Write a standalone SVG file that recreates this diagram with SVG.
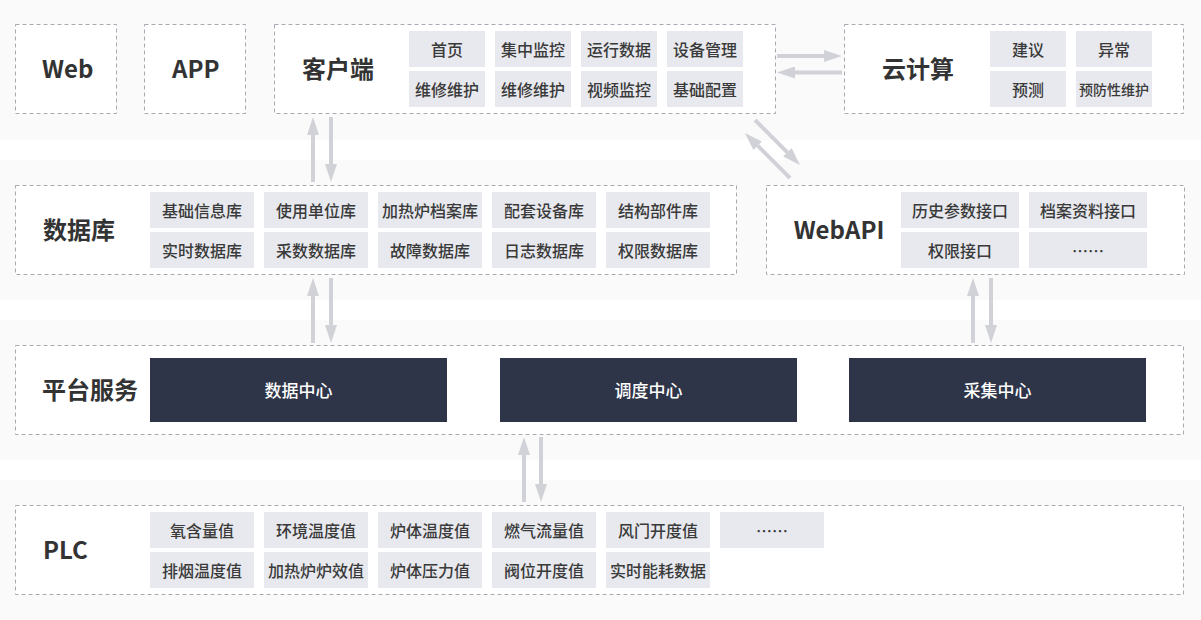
<svg xmlns="http://www.w3.org/2000/svg" width="1201" height="620" viewBox="0 0 1201 620">
<defs>
<style>
.band{fill:#fafafa}
.box{fill:#ffffff;stroke:#a9a9b3;stroke-width:1;stroke-dasharray:4 3}
.item{fill:#e8e9ee}
.blk{fill:#2e3548}
.title{font-family:"Noto Sans CJK SC","Liberation Sans",sans-serif;font-size:24px;font-weight:700;fill:#333333;dominant-baseline:central}
.t{font-family:"Noto Sans CJK SC","Liberation Sans",sans-serif;font-size:16px;font-weight:500;fill:#3a3a3a;text-anchor:middle;dominant-baseline:central}
.w{font-family:"Noto Sans CJK SC","Liberation Sans",sans-serif;font-size:17px;font-weight:500;fill:#ffffff;text-anchor:middle;dominant-baseline:central}
.arr{stroke:#d1d2d7;stroke-width:4;fill:none;marker-end:url(#head)}
</style>
<marker id="head" markerUnits="userSpaceOnUse" markerWidth="18" markerHeight="12" refX="0" refY="6" orient="auto" viewBox="0 0 18 12">
<path d="M0,0 L18,6 L0,12 Z" fill="#d1d2d7"/>
</marker>
</defs>
<rect width="1201" height="620" fill="#ffffff"/>
<rect class="band" x="0" y="0" width="1201" height="140"/>
<rect class="band" x="0" y="160" width="1201" height="140"/>
<rect class="band" x="0" y="320" width="1201" height="140"/>
<rect class="band" x="0" y="480" width="1201" height="140"/>

<g id="web">
<rect class="box" x="15.5" y="24.5" width="101" height="89"/>
<text class="title" x="42" y="67.5">Web</text>
</g>
<g id="app">
<rect class="box" x="144.5" y="24.5" width="101" height="89"/>
<text class="title" x="172" y="67.5">APP</text>
</g>
<g id="client">
<rect class="box" x="274.5" y="24.5" width="501" height="89"/>
<text class="title" x="302" y="67.5">客户端</text>
<rect class="item" x="409" y="31" width="76" height="36"/><text class="t" x="447" y="49">首页</text>
<rect class="item" x="495" y="31" width="76" height="36"/><text class="t" x="533" y="49">集中监控</text>
<rect class="item" x="581" y="31" width="76" height="36"/><text class="t" x="619" y="49">运行数据</text>
<rect class="item" x="667" y="31" width="76" height="36"/><text class="t" x="705" y="49">设备管理</text>
<rect class="item" x="409" y="71" width="76" height="36"/><text class="t" x="447" y="89">维修维护</text>
<rect class="item" x="495" y="71" width="76" height="36"/><text class="t" x="533" y="89">维修维护</text>
<rect class="item" x="581" y="71" width="76" height="36"/><text class="t" x="619" y="89">视频监控</text>
<rect class="item" x="667" y="71" width="76" height="36"/><text class="t" x="705" y="89">基础配置</text>
</g>
<g id="cloud">
<rect class="box" x="844.5" y="24.5" width="339" height="89"/>
<text class="title" x="918" y="67.5" text-anchor="middle">云计算</text>
<rect class="item" x="990" y="31" width="76" height="36"/><text class="t" x="1028" y="49">建议</text>
<rect class="item" x="1076" y="31" width="76" height="36"/><text class="t" x="1114" y="49">异常</text>
<rect class="item" x="990" y="71" width="76" height="36"/><text class="t" x="1028" y="89">预测</text>
<rect class="item" x="1076" y="71" width="76" height="36"/><text class="t" x="1114" y="89" style="font-size:14px">预防性维护</text>
</g>

<g id="database">
<rect class="box" x="15.5" y="185.5" width="721" height="89"/>
<text class="title" x="43" y="228.5">数据库</text>
<rect class="item" x="150" y="192" width="104" height="36"/><text class="t" x="202" y="210">基础信息库</text>
<rect class="item" x="264" y="192" width="104" height="36"/><text class="t" x="316" y="210">使用单位库</text>
<rect class="item" x="378" y="192" width="104" height="36"/><text class="t" x="430" y="210">加热炉档案库</text>
<rect class="item" x="492" y="192" width="104" height="36"/><text class="t" x="544" y="210">配套设备库</text>
<rect class="item" x="606" y="192" width="104" height="36"/><text class="t" x="658" y="210">结构部件库</text>
<rect class="item" x="150" y="232" width="104" height="36"/><text class="t" x="202" y="250">实时数据库</text>
<rect class="item" x="264" y="232" width="104" height="36"/><text class="t" x="316" y="250">采数数据库</text>
<rect class="item" x="378" y="232" width="104" height="36"/><text class="t" x="430" y="250">故障数据库</text>
<rect class="item" x="492" y="232" width="104" height="36"/><text class="t" x="544" y="250">日志数据库</text>
<rect class="item" x="606" y="232" width="104" height="36"/><text class="t" x="658" y="250">权限数据库</text>
</g>
<g id="webapi">
<rect class="box" x="766.5" y="185.5" width="418" height="89"/>
<text class="title" x="839" y="228.5" text-anchor="middle">WebAPI</text>
<rect class="item" x="901" y="192" width="118" height="36"/><text class="t" x="960" y="210">历史参数接口</text>
<rect class="item" x="1029" y="192" width="118" height="36"/><text class="t" x="1088" y="210">档案资料接口</text>
<rect class="item" x="901" y="232" width="118" height="36"/><text class="t" x="960" y="250">权限接口</text>
<rect class="item" x="1029" y="232" width="118" height="36"/><text class="t" x="1088" y="250">……</text>
</g>

<g id="platform">
<rect class="box" x="15.5" y="345.5" width="1168" height="89"/>
<text class="title" x="42" y="388.5">平台服务</text>
<rect class="blk" x="150" y="358" width="297" height="64"/><text class="w" x="298.5" y="389.5">数据中心</text>
<rect class="blk" x="500" y="358" width="297" height="64"/><text class="w" x="648.5" y="389.5">调度中心</text>
<rect class="blk" x="849" y="358" width="297" height="64"/><text class="w" x="997.5" y="389.5">采集中心</text>
</g>

<g id="plc">
<rect class="box" x="15.5" y="505.5" width="1168" height="89"/>
<text class="title" x="43" y="548.5">PLC</text>
<rect class="item" x="150" y="512" width="104" height="36"/><text class="t" x="202" y="530">氧含量值</text>
<rect class="item" x="264" y="512" width="104" height="36"/><text class="t" x="316" y="530">环境温度值</text>
<rect class="item" x="378" y="512" width="104" height="36"/><text class="t" x="430" y="530">炉体温度值</text>
<rect class="item" x="492" y="512" width="104" height="36"/><text class="t" x="544" y="530">燃气流量值</text>
<rect class="item" x="606" y="512" width="104" height="36"/><text class="t" x="658" y="530">风门开度值</text>
<rect class="item" x="720" y="512" width="104" height="36"/><text class="t" x="772" y="530">……</text>
<rect class="item" x="150" y="552" width="104" height="36"/><text class="t" x="202" y="570">排烟温度值</text>
<rect class="item" x="264" y="552" width="104" height="36"/><text class="t" x="316" y="570">加热炉炉效值</text>
<rect class="item" x="378" y="552" width="104" height="36"/><text class="t" x="430" y="570">炉体压力值</text>
<rect class="item" x="492" y="552" width="104" height="36"/><text class="t" x="544" y="570">阀位开度值</text>
<rect class="item" x="606" y="552" width="104" height="36"/><text class="t" x="658" y="570">实时能耗数据</text>
</g>

<g id="connectors">
<line class="arr" x1="777" y1="56" x2="824" y2="56"/>
<line class="arr" x1="842" y1="72.5" x2="795" y2="72.5"/>
<line class="arr" x1="755" y1="120" x2="787.3" y2="152.3"/>
<line class="arr" x1="790" y1="178" x2="757.7" y2="145.7"/>
<line class="arr" x1="313" y1="182" x2="313" y2="135"/>
<line class="arr" x1="331" y1="117" x2="331" y2="164"/>
<line class="arr" x1="313" y1="343" x2="313" y2="296"/>
<line class="arr" x1="331" y1="278" x2="331" y2="325"/>
<line class="arr" x1="973" y1="343" x2="973" y2="296"/>
<line class="arr" x1="991" y1="278" x2="991" y2="325"/>
<line class="arr" x1="524" y1="502" x2="524" y2="455"/>
<line class="arr" x1="541" y1="437" x2="541" y2="484"/>
</g>
</svg>
